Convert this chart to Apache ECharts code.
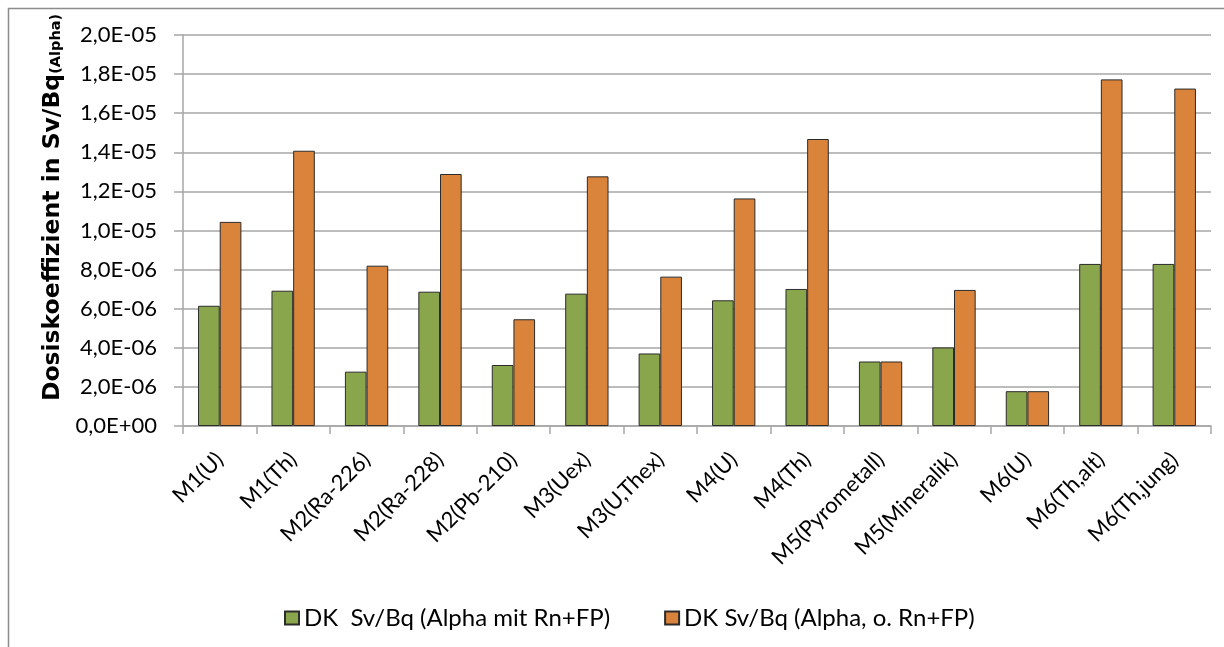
<!DOCTYPE html>
<html>
<head>
<meta charset="utf-8">
<script src="https://cdn.jsdelivr.net/npm/echarts@6/dist/echarts.min.js"></script>
<style>
  html, body { margin: 0; padding: 0; background: #fff; }
  #chart { width: 1224px; height: 647px; }
</style>
</head>
<body>
<div id="chart"></div>
<script>
// Kategorien (Modelle)
const categories = ['M1(U)', 'M1(Th)', 'M2(Ra-226)', 'M2(Ra-228)', 'M2(Pb-210)', 'M3(Uex)', 'M3(U,Thex)',
  'M4(U)', 'M4(Th)', 'M5(Pyrometall)', 'M5(Mineralik)', 'M6(U)', 'M6(Th,alt)', 'M6(Th,jung)']
// DK Sv/Bq (Alpha mit Rn+FP)
const mitRnFP = [6.15e-6, 6.92e-6, 2.78e-6, 6.87e-6, 3.12e-6, 6.77e-6, 3.71e-6,
  6.43e-6, 7.01e-6, 3.30e-6, 4.02e-6, 1.78e-6, 8.29e-6, 8.29e-6]
// DK Sv/Bq (Alpha, o. Rn+FP)
const ohneRnFP = [10.44e-6, 14.08e-6, 8.2e-6, 12.89e-6, 5.46e-6, 12.77e-6, 7.64e-6,
  11.64e-6, 14.68e-6, 3.30e-6, 6.96e-6, 1.78e-6, 17.73e-6, 17.26e-6]
const seriesNames = ['DK  Sv/Bq (Alpha mit Rn+FP)', 'DK Sv/Bq (Alpha, o. Rn+FP)']

const font = 'Lato, "Open Sans", sans-serif'
const titleFont = '"DejaVu Sans", Lato, sans-serif'

// 2,0E-05 style
function sciLabel (v) {
  if (v === 0) return '0,0E+00'
  let e = Math.floor(Math.log10(Math.abs(v)) + 1e-9)
  let m = v / Math.pow(10, e)
  const sign = e < 0 ? '-' : '+'
  const ee = String(Math.abs(e)).padStart(2, '0')
  return m.toFixed(1).replace('.', ',') + 'E' + sign + ee
}

const chart = echarts.init(document.getElementById('chart'))
chart.setOption({
  backgroundColor: '#ffffff',
  animation: false,
  graphic: [{
    type: 'rect',
    shape: { x: 8.5, y: 8.5, width: 1240, height: 660 },
    style: { fill: 'none', stroke: '#8c8c8c', lineWidth: 1.5 },
    z: -1
  }],
  grid: {
    left: 183,
    right: 13,
    top: 35,
    bottom: 221
  },
  legend: {
    bottom: 12,
    left: 279,
    itemWidth: 14,
    itemHeight: 13,
    itemGap: 54,
    icon: 'rect',
    textStyle: { fontFamily: font, fontSize: 24, color: '#000' },
    data: seriesNames
  },
  xAxis: {
    type: 'category',
    data: categories,
    axisLine: { lineStyle: { color: '#a6a6a6', width: 1.5 } },
    axisTick: { show: true, length: 8, alignWithLabel: false, lineStyle: { color: '#a6a6a6', width: 1.5 } },
    axisLabel: {
      rotate: 45,
      interval: 0,
      margin: 30,
      fontFamily: font,
      fontSize: 22,
      color: '#000'
    }
  },
  yAxis: {
    type: 'value',
    min: 0,
    max: 2e-5,
    interval: 2e-6,
    name: '{b|Dosiskoeffizient in Sv/Bq}{s|(Alpha)}',
    nameLocation: 'middle',
    nameGap: 118,
    nameTextStyle: {
      padding: [0, 0, 0, 46],
      rich: {
        b: { fontFamily: titleFont, fontSize: 23.5, fontWeight: 'bold', color: '#000' },
        s: { fontFamily: titleFont, fontSize: 14.5, fontWeight: 'bold', color: '#000', padding: [8, 0, 0, 0] }
      }
    },
    axisLine: { show: true, lineStyle: { color: '#a6a6a6', width: 1.5 } },
    axisTick: { show: true, length: 9, lineStyle: { color: '#a6a6a6', width: 1.5 } },
    axisLabel: {
      margin: 26,
      fontFamily: font,
      fontSize: 22,
      color: '#000',
      formatter: sciLabel
    },
    splitLine: { show: true, lineStyle: { color: '#a6a6a6', width: 1.5 } }
  },
  series: [{
    name: seriesNames[0],
    type: 'bar',
    barGap: '0%',
    barCategoryGap: '41%',
    itemStyle: { color: '#8aa64d', borderColor: '#2b2b2b', borderWidth: 1 },
    data: mitRnFP
  }, {
    name: seriesNames[1],
    type: 'bar',
    itemStyle: { color: '#da833b', borderColor: '#2b2b2b', borderWidth: 1 },
    data: ohneRnFP
  }]
})
</script>
</body>
</html>
